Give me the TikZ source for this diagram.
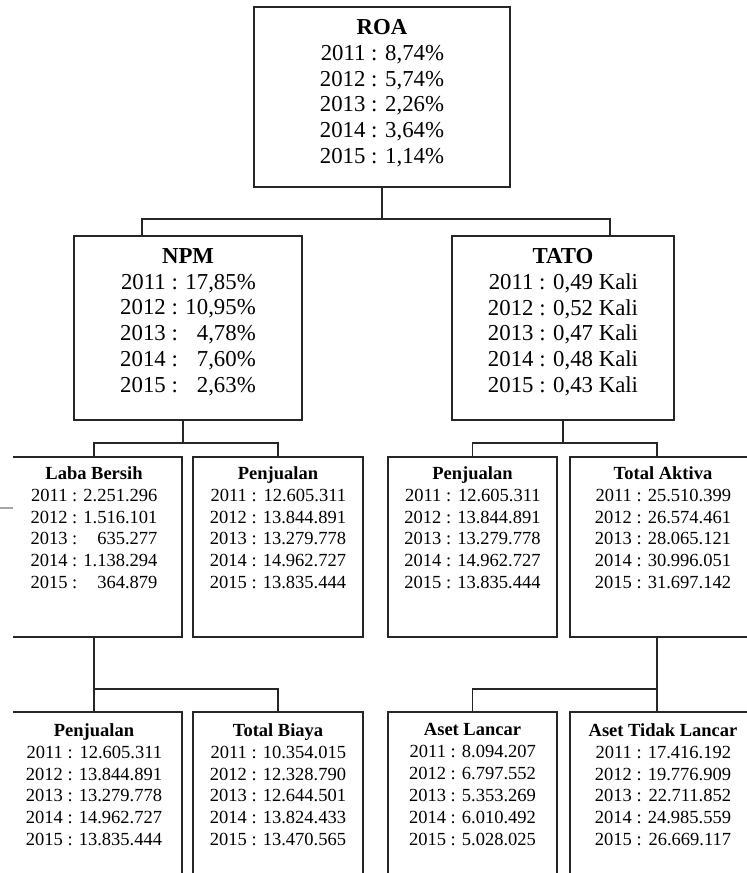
\documentclass[tikz,border=0pt]{standalone}
\usepackage{fontspec}
\setmainfont{Liberation Serif}
\usetikzlibrary{positioning}

\newcommand{\isi}[2]{\textbf{#1}\\\begin{tabular}[t]{@{}r@{ : }r@{}}#2\end{tabular}}

\begin{document}
\begin{tikzpicture}[x=1pt, y=-1pt,
  kotak/.style={draw=black!85, line width=1.5pt, inner sep=0pt},
  teks/.style={inner sep=0pt, align=center},
  besar/.style={font=\fontsize{22.8}{25.8}\selectfont},
  kecil/.style={font=\fontsize{18.5}{21.9}\selectfont},
  garis/.style={draw=black!85, line width=1.5pt}]
\useasboundingbox (0,0) rectangle (747,873);
\draw[gray!70, line width=1.2pt] (0,508) -- (13,508);
\begin{scope}
\clip (13,0) rectangle (747,873);
% level 1
\node[kotak, minimum width=256, minimum height=180] (roa) at (382,97) {};
\node[teks, besar, below=13pt of roa.north] (roa-t) {\isi{ROA}{2011 & 8,74\%\\2012 & 5,74\%\\2013 & 2,26\%\\2014 & 3,64\%\\2015 & 1,14\%}};
% level 2
\node[kotak, minimum width=228, minimum height=184] (npm) at (188,328) {};
\node[teks, besar, below=13pt of npm.north] (npm-t) {\isi{NPM}{2011 & 17,85\%\\2012 & 10,95\%\\2013 & 4,78\%\\2014 & 7,60\%\\2015 & 2,63\%}};
\node[kotak, minimum width=222, minimum height=184] (tato) at (563,328) {};
\node[teks, besar, below=13pt of tato.north] (tato-t) {\isi{TATO}{2011 & 0,49 Kali\\2012 & 0,52 Kali\\2013 & 0,47 Kali\\2014 & 0,48 Kali\\2015 & 0,43 Kali}};
% level 3
\node[kotak, minimum width=176, minimum height=180] (laba) at (94,547) {};
\node[teks, kecil, below=10pt of laba.north] (laba-t) {\isi{Laba Bersih}{2011 & 2.251.296\\2012 & 1.516.101\\2013 & 635.277\\2014 & 1.138.294\\2015 & 364.879}};
\node[kotak, minimum width=170, minimum height=180] (jual) at (278,547) {};
\node[teks, kecil, below=10pt of jual.north] (jual-t) {\isi{Penjualan}{2011 & 12.605.311\\2012 & 13.844.891\\2013 & 13.279.778\\2014 & 14.962.727\\2015 & 13.835.444}};
\node[kotak, minimum width=169, minimum height=180] (jualb) at (472.5,547) {};
\node[teks, kecil, below=10pt of jualb.north] (jualb-t) {\isi{Penjualan}{2011 & 12.605.311\\2012 & 13.844.891\\2013 & 13.279.778\\2014 & 14.962.727\\2015 & 13.835.444}};
\node[kotak, minimum width=186, minimum height=180] (aktiva) at (663,547) {};
\node[teks, kecil, below=10pt of aktiva.north] (aktiva-t) {\isi{Total Aktiva}{2011 & 25.510.399\\2012 & 26.574.461\\2013 & 28.065.121\\2014 & 30.996.051\\2015 & 31.697.142}};
% level 4
\node[kotak, minimum width=176, minimum height=200] (jualc) at (94,812) {};
\node[teks, kecil, below=12pt of jualc.north] (jualc-t) {\isi{Penjualan}{2011 & 12.605.311\\2012 & 13.844.891\\2013 & 13.279.778\\2014 & 14.962.727\\2015 & 13.835.444}};
\node[kotak, minimum width=170, minimum height=200] (biaya) at (278,812) {};
\node[teks, kecil, below=12pt of biaya.north] (biaya-t) {\isi{Total Biaya}{2011 & 10.354.015\\2012 & 12.328.790\\2013 & 12.644.501\\2014 & 13.824.433\\2015 & 13.470.565}};
\node[kotak, minimum width=169, minimum height=200] (lancar) at (472.5,812) {};
\node[teks, kecil, below=12pt of lancar.north] (lancar-t) {\isi{Aset Lancar}{2011 & 8.094.207\\2012 & 6.797.552\\2013 & 5.353.269\\2014 & 6.010.492\\2015 & 5.028.025}};
\node[kotak, minimum width=186, minimum height=200] (tdklancar) at (663,812) {};
\node[teks, kecil, below=12pt of tdklancar.north] (tdklancar-t) {\isi{Aset Tidak Lancar}{2011 & 17.416.192\\2012 & 19.776.909\\2013 & 22.711.852\\2014 & 24.985.559\\2015 & 26.669.117}};
% garis penghubung
\draw[garis] (roa.south) -- ++(0,31) coordinate (c1);
\draw[garis] ([xshift=-46pt]npm.north) |- (c1) -| ([xshift=47pt]tato.north);
\draw[garis] ([xshift=-5pt]npm.south) -- ++(0,22) coordinate (c2);
\draw[garis] (laba.north) |- (c2) -| (jual.north);
\draw[garis] (tato.south) -- ++(0,22) coordinate (c3);
\draw[garis] (jualb.north) |- (c3) -| ([xshift=-6pt]aktiva.north);
\draw[garis] (laba.south) -- ++(0,51) coordinate (c4) -| (biaya.north);
\draw[garis] (c4) -- (jualc.north);
\draw[garis] ([xshift=-6pt]aktiva.south) -- ++(0,51) coordinate (c5) -- ([xshift=-6pt]tdklancar.north);
\draw[garis] (lancar.north) |- (c5);
\end{scope}
\end{tikzpicture}
\end{document}
